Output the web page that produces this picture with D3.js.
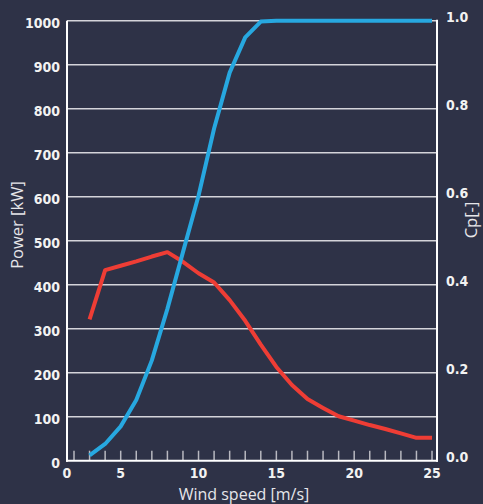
<!DOCTYPE html>
<html>
<head>
<meta charset="utf-8">
<script src="https://cdn.jsdelivr.net/npm/d3@7/dist/d3.min.js"></script>
<style>
  html, body { margin: 0; padding: 0; background: #2e3247; }
  svg { display: block; }
</style>
</head>
<body>
<svg id="chart" width="483" height="504"></svg>
<script>
// ---- data ----
const windSpeed = [3, 4, 5, 6, 7, 8, 9, 10, 11, 12, 13, 14, 15, 16, 17, 18, 19, 20, 21, 22, 23, 24, 25];
const powerKW   = [12, 38, 78, 138, 228, 345, 474, 602, 755, 882, 962, 998, 1000, 1000, 1000, 1000, 1000, 1000, 1000, 1000, 1000, 1000, 1000];
const cp        = [0.321, 0.433, 0.443, 0.453, 0.464, 0.474, 0.452, 0.426, 0.405, 0.365, 0.318, 0.264, 0.213, 0.172, 0.140, 0.120, 0.101, 0.091, 0.081, 0.072, 0.062, 0.052, 0.052];
const xTickMinor = [2, 3, 4, 5, 6, 7, 8, 9, 10, 11, 12, 13, 14, 15, 16, 17, 18, 19, 20, 21, 22, 23, 24, 25];
const xTickLabels = [0, 5, 10, 15, 20, 25];
const yLeftTicks = [0, 100, 200, 300, 400, 500, 600, 700, 800, 900, 1000];
const yRightTicks = [0, 0.2, 0.4, 0.6, 0.8, 1.0];
const xTitle = "Wind speed [m/s]";
const yLeftTitle = "Power [kW]";
const yRightTitle = "Cp[-]";

(function () {
// ---- layout ----
const svg = d3.select("#chart");
const pL = 67, pR = 437, pT = 20.7, pB = 460.7;
const xDomain = [1.55, 25.32];
const x = d3.scaleLinear().domain(xDomain).range([pL, pR]);
const yL = d3.scaleLinear().domain([0, 1000]).range([pB, pT]);
const yR = d3.scaleLinear().domain([0, 1]).range([pB, pT]);

svg.append("rect").attr("width", 483).attr("height", 504).attr("fill", "#2e3247");

const numFont = "'DejaVu Sans Condensed', 'Liberation Sans Narrow', sans-serif";
const titleFont = "'Open Sans', 'Noto Sans', sans-serif";

// gridlines
svg.append("g").selectAll("line")
  .data(yLeftTicks.filter(d => d > 0))
  .join("line")
  .attr("x1", pL).attr("x2", pR)
  .attr("y1", d => yL(d)).attr("y2", d => yL(d))
  .attr("stroke", "#d4d4da").attr("stroke-width", 1.5);

// x minor ticks (upward)
svg.append("g").selectAll("line")
  .data(xTickMinor)
  .join("line")
  .attr("x1", d => x(d)).attr("x2", d => x(d))
  .attr("y1", pB).attr("y2", pB - 10)
  .attr("stroke", "#b8b8c0").attr("stroke-width", 1.5);

// axis lines
svg.append("line").attr("x1", pL).attr("x2", pL).attr("y1", pT).attr("y2", pB + 1)
  .attr("stroke", "#ffffff").attr("stroke-width", 2);
svg.append("line").attr("x1", pR).attr("x2", pR).attr("y1", pT - 1).attr("y2", pB + 1)
  .attr("stroke", "#ffffff").attr("stroke-width", 2);
svg.append("line").attr("x1", pL - 1).attr("x2", pR + 1).attr("y1", pB).attr("y2", pB)
  .attr("stroke", "#ffffff").attr("stroke-width", 2);

// lines
const linePower = d3.line().x((d, i) => x(windSpeed[i])).y(d => yL(d));
const lineCp = d3.line().x((d, i) => x(windSpeed[i])).y(d => yR(d));

svg.append("path").datum(cp).attr("d", lineCp)
  .attr("fill", "none").attr("stroke", "#ee3d35").attr("stroke-width", 4)
  .attr("stroke-linejoin", "round");
svg.append("path").datum(powerKW).attr("d", linePower)
  .attr("fill", "none").attr("stroke", "#27a8e0").attr("stroke-width", 4)
  .attr("stroke-linejoin", "round");

// left tick labels
svg.append("g").selectAll("text")
  .data(yLeftTicks)
  .join("text")
  .attr("x", 60).attr("y", d => yL(d) + 7.5)
  .attr("text-anchor", "end")
  .attr("font-family", numFont).attr("font-weight", "bold").attr("font-size", 14)
  .attr("fill", "#f2f2f2")
  .text(d => d);

// right tick labels
svg.append("g").selectAll("text")
  .data(yRightTicks)
  .join("text")
  .attr("x", 446).attr("y", d => yR(d) + 1.5)
  .attr("text-anchor", "start")
  .attr("font-family", numFont).attr("font-weight", "bold").attr("font-size", 14)
  .attr("fill", "#f2f2f2")
  .text(d => d.toFixed(1));

// x tick labels
svg.append("g").selectAll("text")
  .data(xTickLabels)
  .join("text")
  .attr("x", d => x(Math.max(d, xDomain[0])))
  .attr("y", 478)
  .attr("text-anchor", "middle")
  .attr("font-family", numFont).attr("font-weight", "bold").attr("font-size", 14)
  .attr("fill", "#f2f2f2")
  .text(d => d);

// titles
svg.append("text")
  .attr("transform", "translate(23,225) rotate(-90)")
  .attr("text-anchor", "middle")
  .attr("font-family", titleFont).attr("font-size", 16.5)
  .attr("fill", "#e6e6ea")
  .text(yLeftTitle);

svg.append("text")
  .attr("transform", "translate(477,220) rotate(-90)")
  .attr("text-anchor", "middle")
  .attr("font-family", titleFont).attr("font-size", 16.5)
  .attr("fill", "#e6e6ea")
  .text(yRightTitle);

svg.append("text")
  .attr("x", 244).attr("y", 500)
  .attr("text-anchor", "middle")
  .attr("font-family", titleFont).attr("font-size", 16)
  .attr("fill", "#e6e6ea")
  .text(xTitle);
})();
</script>
</body>
</html>
